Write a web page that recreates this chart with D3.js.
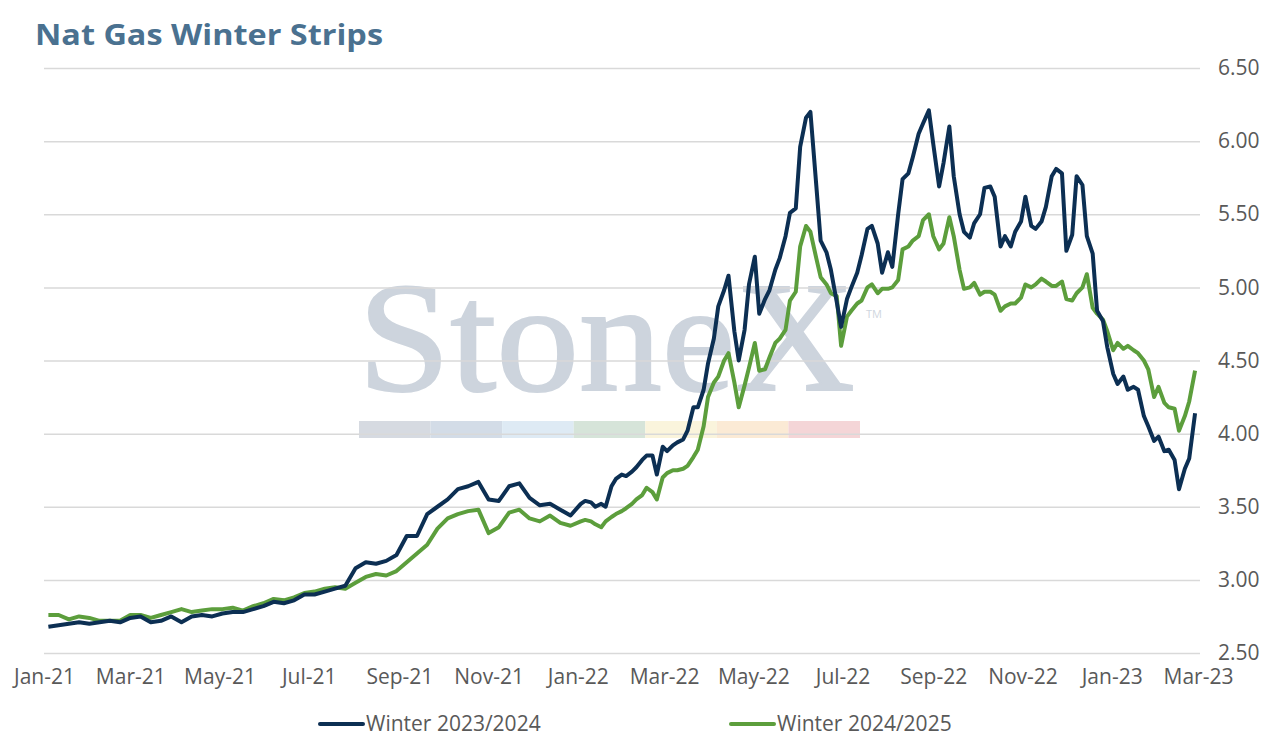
<!DOCTYPE html>
<html>
<head>
<meta charset="utf-8">
<script src="https://cdn.jsdelivr.net/npm/d3@7"></script>
<style>
  body { margin: 0; background: #fff; }
  svg { display: block; }
</style>
</head>
<body>
<div id="chart"></div>
<script>
const width = 1274;
const height = 744;

const margin = { top: 68, bottom: 91, left: 44, right: 74 };

// settle dates: weekly (Mondays) through 2021, then Mondays + Thursdays to Feb 2023
const dates2021 = d3.timeMonday.range(new Date(2021, 0, 4), new Date(2022, 0, 1));
const dates2022 = d3.timeMonday.range(new Date(2022, 0, 3), new Date(2023, 1, 28))
  .concat(d3.timeThursday.range(new Date(2022, 0, 6), new Date(2023, 1, 28)))
  .sort(d3.ascending);
const dates = dates2021.concat(dates2022);

const seriesNames = ["Winter 2023/2024", "Winter 2024/2025"];
const seriesColors = ["#0c2f53", "#5c9e3c"];

const winter2324 = [
  // 2021, weekly
  2.68, 2.69, 2.70, 2.71, 2.70, 2.71, 2.72, 2.71, 2.74, 2.75,
  2.71, 2.72, 2.75, 2.71, 2.75, 2.76, 2.75, 2.77, 2.78, 2.78,
  2.80, 2.82, 2.85, 2.84, 2.86, 2.90, 2.90, 2.92, 2.94, 2.96,
  3.08, 3.12, 3.11, 3.13, 3.17, 3.30, 3.30, 3.45, 3.50, 3.55,
  3.62, 3.64, 3.67, 3.55, 3.54, 3.64, 3.66, 3.56, 3.51, 3.52,
  3.48, 3.44,
  // 2022 - 2023, twice a week
  3.52, 3.54, 3.53, 3.50, 3.52, 3.50, 3.64, 3.69, 3.72, 3.71,
  3.74, 3.77, 3.82, 3.85, 3.85, 3.72, 3.91, 3.88, 3.92, 3.94,
  3.96, 4.02, 4.18, 4.18, 4.30, 4.48, 4.65, 4.87, 4.98, 5.08,
  4.70, 4.50, 4.71, 5.02, 5.21, 4.82, 4.92, 4.98, 5.12, 5.20,
  5.35, 5.51, 5.54, 5.96, 6.16, 6.20, 5.70, 5.32, 5.24, 5.12,
  4.90, 4.73, 4.92, 5.00, 5.10, 5.22, 5.40, 5.42, 5.30, 5.10,
  5.24, 5.14, 5.50, 5.74, 5.78, 5.89, 6.05, 6.12, 6.21, 5.98,
  5.69, 5.85, 6.10, 5.76, 5.50, 5.38, 5.34, 5.44, 5.50, 5.68,
  5.69, 5.62, 5.28, 5.35, 5.28, 5.38, 5.45, 5.62, 5.42, 5.40,
  5.45, 5.55, 5.76, 5.81, 5.78, 5.25, 5.36, 5.76, 5.70, 5.35,
  5.23, 4.84, 4.77, 4.59, 4.41, 4.34, 4.39, 4.30, 4.32, 4.30,
  4.12, 4.05, 3.95, 3.98, 3.88, 3.89, 3.82, 3.62, 3.76, 3.83,
  4.14
];

const winter2425 = [
  // 2021, weekly
  2.76, 2.76, 2.73, 2.75, 2.74, 2.72, 2.72, 2.72, 2.76, 2.76,
  2.74, 2.76, 2.78, 2.80, 2.78, 2.79, 2.80, 2.80, 2.81, 2.79,
  2.82, 2.84, 2.87, 2.86, 2.88, 2.91, 2.92, 2.94, 2.95, 2.94,
  2.98, 3.02, 3.04, 3.03, 3.06, 3.12, 3.18, 3.24, 3.35, 3.42,
  3.45, 3.47, 3.48, 3.32, 3.36, 3.46, 3.48, 3.42, 3.40, 3.44,
  3.39, 3.37,
  // 2022 - 2023, twice a week
  3.40, 3.41, 3.40, 3.38, 3.36, 3.40, 3.43, 3.45, 3.47, 3.49,
  3.52, 3.55, 3.58, 3.63, 3.60, 3.55, 3.70, 3.73, 3.75, 3.75,
  3.76, 3.78, 3.84, 3.89, 4.05, 4.25, 4.35, 4.39, 4.50, 4.55,
  4.35, 4.18, 4.33, 4.45, 4.62, 4.43, 4.44, 4.52, 4.62, 4.65,
  4.71, 4.91, 4.97, 5.28, 5.42, 5.38, 5.20, 5.07, 5.02, 4.96,
  4.94, 4.60, 4.80, 4.84, 4.89, 4.91, 5.00, 5.02, 4.96, 4.99,
  4.99, 5.00, 5.05, 5.26, 5.28, 5.32, 5.35, 5.46, 5.50, 5.35,
  5.26, 5.30, 5.48, 5.35, 5.12, 4.99, 5.00, 5.03, 4.95, 4.97,
  4.97, 4.95, 4.84, 4.87, 4.89, 4.89, 4.93, 5.02, 5.00, 5.02,
  5.06, 5.04, 5.01, 5.01, 5.04, 4.92, 4.91, 4.96, 5.00, 5.09,
  4.86, 4.82, 4.78, 4.70, 4.57, 4.62, 4.58, 4.60, 4.57, 4.55,
  4.50, 4.44, 4.25, 4.32, 4.21, 4.18, 4.17, 4.02, 4.12, 4.22,
  4.43
];

const yTicks = [2.5, 3.0, 3.5, 4.0, 4.5, 5.0, 5.5, 6.0, 6.5];
const xTickDates = d3.timeMonth.every(2).range(new Date(2021, 0, 1), new Date(2023, 2, 2));

const watermarkColors = ["#d6dae1", "#d3dce7", "#deeaf4", "#d6e4d9", "#faf4dc", "#fbead5", "#f4d5d7"];

const textFont = "'Open Sans', sans-serif";

const svg = d3.select("#chart")
  .append("svg")
  .attr("width", width)
  .attr("height", height);

const x = d3.scaleTime()
  .domain([new Date(2021, 0, 1), new Date(2023, 2, 1)])
  .range([margin.left, width - margin.right - 2]);

const y = d3.scaleLinear()
  .domain([2.5, 6.5])
  .range([height - margin.bottom, margin.top]);

// title
svg.append("text")
  .attr("x", 35)
  .attr("y", 45)
  .attr("font-family", textFont)
  .attr("font-weight", 700)
  .attr("font-size", 29)
  .attr("textLength", 348)
  .attr("lengthAdjust", "spacingAndGlyphs")
  .attr("fill", "#4a7190")
  .text("Nat Gas Winter Strips");

// watermark
const wm = svg.append("g");
wm.append("text")
  .attr("x", 358)
  .attr("y", 390)
  .attr("font-family", "'Liberation Serif', 'DejaVu Serif', serif")
  .attr("font-size", 156)
  .attr("textLength", 497)
  .attr("lengthAdjust", "spacingAndGlyphs")
  .attr("fill", "#cdd4dd")
  .attr("stroke", "#cdd4dd")
  .attr("stroke-width", 2)
  .text("StoneX");
wm.append("text")
  .attr("x", 866)
  .attr("y", 318)
  .attr("font-family", textFont)
  .attr("font-size", 11)
  .attr("fill", "#cfd6de")
  .text("TM");

const barX = d3.scaleBand()
  .domain(d3.range(watermarkColors.length))
  .range([359, 860]);
wm.selectAll("rect")
  .data(watermarkColors)
  .join("rect")
  .attr("x", (d, i) => barX(i))
  .attr("y", 421)
  .attr("width", barX.bandwidth())
  .attr("height", 17)
  .attr("fill", d => d);

// grid + y axis labels
const yAxis = d3.axisRight(y)
  .tickValues(yTicks)
  .tickSize(-(width - margin.right - margin.left))
  .tickPadding(18)
  .tickFormat(d3.format(".2f"));

svg.append("g")
  .attr("transform", `translate(${width - margin.right},0)`)
  .call(yAxis)
  .call(g => g.select(".domain").remove())
  .call(g => g.selectAll(".tick line").attr("stroke", "#d9d9d9").attr("stroke-width", 1.5))
  .call(g => g.selectAll(".tick text")
    .attr("font-family", textFont)
    .attr("font-size", 21)
    .attr("fill", "#595959"));

// x axis labels
const xAxis = d3.axisBottom(x)
  .tickValues(xTickDates)
  .tickSize(0)
  .tickPadding(16)
  .tickFormat(d3.timeFormat("%b-%y"));

svg.append("g")
  .attr("transform", `translate(0,${height - margin.bottom})`)
  .call(xAxis)
  .call(g => g.select(".domain").remove())
  .call(g => g.selectAll(".tick text")
    .attr("font-family", textFont)
    .attr("font-size", 21)
    .attr("fill", "#595959"));

// lines
const line = d3.line()
  .x((d, i) => x(dates[i]))
  .y(d => y(d));

const allSeries = [winter2324, winter2425];

svg.append("g")
  .selectAll("path")
  .data(allSeries.slice().reverse())
  .join("path")
  .attr("fill", "none")
  .attr("stroke", (d, i) => seriesColors[allSeries.length - 1 - i])
  .attr("stroke-width", 4)
  .attr("stroke-linejoin", "round")
  .attr("d", line);

// legend
const legendX = [320, 731];
const legend = svg.append("g")
  .selectAll("g")
  .data(seriesNames)
  .join("g")
  .attr("transform", (d, i) => `translate(${legendX[i]},724)`);

legend.append("line")
  .attr("x1", 0)
  .attr("x2", 43)
  .attr("stroke", (d, i) => seriesColors[i])
  .attr("stroke-width", 4)
  .attr("stroke-linecap", "round");

legend.append("text")
  .attr("x", 46)
  .attr("y", 7)
  .attr("font-family", textFont)
  .attr("font-size", 21)
  .attr("fill", "#595959")
  .text(d => d);
</script>
</body>
</html>
